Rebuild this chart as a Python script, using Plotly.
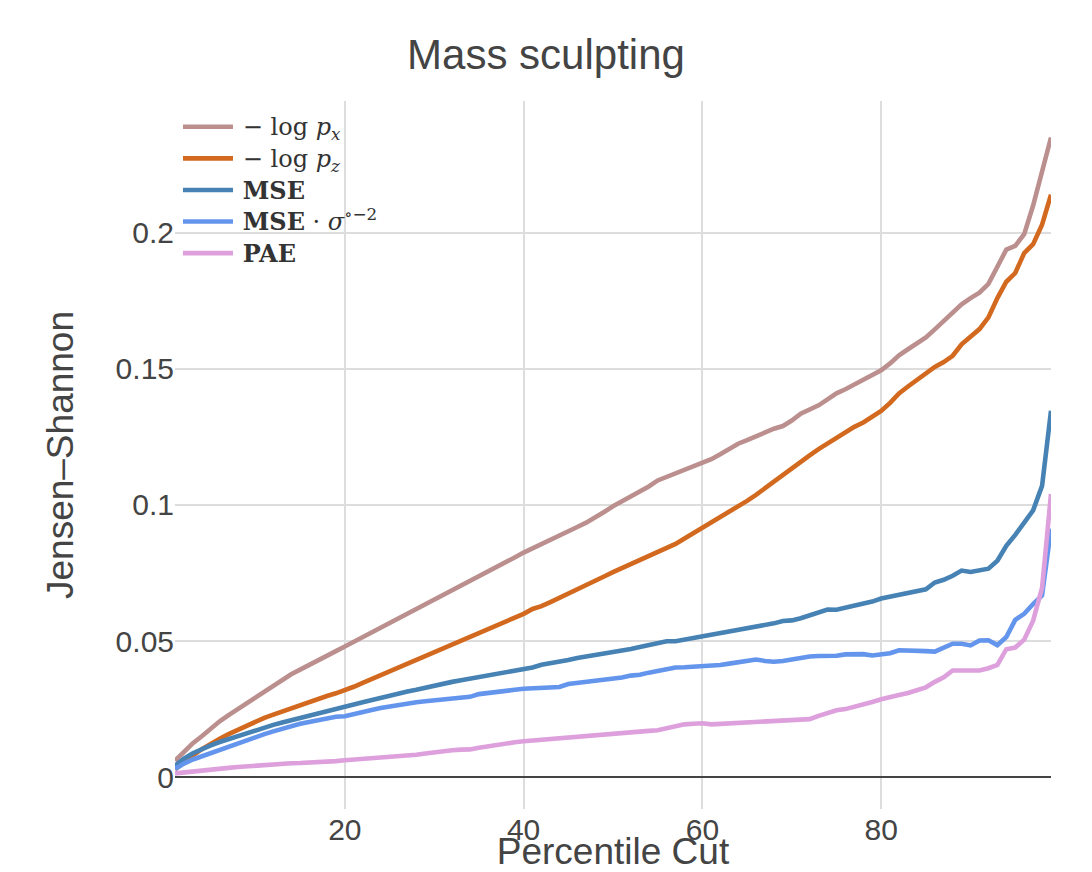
import plotly.graph_objects as go

x_pct = list(range(1, 100))

neg_log_px = [
    0.0060, 0.0095, 0.0125, 0.0150, 0.0178, 0.0205, 0.0228, 0.0250, 0.0270, 0.0291,
    0.0312, 0.0333, 0.0356, 0.0378, 0.0395, 0.0413, 0.0430, 0.0447, 0.0463, 0.0480,
    0.0497, 0.0514, 0.0531, 0.0548, 0.0565, 0.0582, 0.0599, 0.0616, 0.0633, 0.0650,
    0.0667, 0.0684, 0.0702, 0.0720, 0.0738, 0.0756, 0.0773, 0.0790, 0.0807, 0.0825,
    0.0840, 0.0856, 0.0872, 0.0888, 0.0903, 0.0919, 0.0935, 0.0953, 0.0974, 0.0995,
    0.1013, 0.1035, 0.1050, 0.1068, 0.1090, 0.1103, 0.1113, 0.1125, 0.1138, 0.1151,
    0.1168, 0.1186, 0.1205, 0.1225, 0.1238, 0.1252, 0.1268, 0.1280, 0.1290, 0.1310,
    0.1335, 0.1350, 0.1366, 0.1388, 0.1410, 0.1425, 0.1442, 0.1458, 0.1478, 0.1495,
    0.1520, 0.1550, 0.1572, 0.1592, 0.1615, 0.1645, 0.1675, 0.1705, 0.1737, 0.1760,
    0.1780, 0.1812, 0.1875, 0.1938, 0.1952, 0.1995, 0.2100, 0.2227, 0.2350,
]

neg_log_pz = [
    0.0028, 0.0055, 0.0080, 0.0103, 0.0123, 0.0141, 0.0158, 0.0174, 0.0190, 0.0205,
    0.0218, 0.0230, 0.0242, 0.0254, 0.0266, 0.0277, 0.0288, 0.0298, 0.0308, 0.0318,
    0.0332, 0.0346, 0.0360, 0.0374, 0.0388, 0.0402, 0.0417, 0.0432, 0.0445, 0.0460,
    0.0473, 0.0487, 0.0500, 0.0514, 0.0528, 0.0542, 0.0556, 0.0570, 0.0585, 0.0600,
    0.0618, 0.0628, 0.0643, 0.0658, 0.0673, 0.0688, 0.0704, 0.0720, 0.0737, 0.0753,
    0.0768, 0.0783, 0.0797, 0.0812, 0.0826, 0.0842, 0.0857, 0.0877, 0.0897, 0.0915,
    0.0933, 0.0952, 0.0972, 0.0993, 0.1015, 0.1037, 0.1062, 0.1086, 0.1110, 0.1135,
    0.1159, 0.1182, 0.1205, 0.1225, 0.1248, 0.1268, 0.1287, 0.1303, 0.1325, 0.1345,
    0.1375, 0.1410, 0.1435, 0.1460, 0.1482, 0.1507, 0.1525, 0.1548, 0.1590, 0.1620,
    0.1646, 0.1689, 0.1760, 0.1820, 0.1852, 0.1925, 0.1958, 0.2030, 0.2140,
]

mse = [
    0.0042, 0.0068, 0.0088, 0.0104, 0.0117, 0.0129, 0.0140, 0.0151, 0.0162, 0.0172,
    0.0182, 0.0192, 0.0201, 0.0210, 0.0218, 0.0226, 0.0234, 0.0242, 0.0250, 0.0260,
    0.0267, 0.0275, 0.0283, 0.0292, 0.0300, 0.0311, 0.0315, 0.0321, 0.0329, 0.0337,
    0.0343, 0.0350, 0.0356, 0.0362, 0.0368, 0.0373, 0.0378, 0.0384, 0.0389, 0.0395,
    0.0403, 0.0413, 0.0418, 0.0422, 0.0430, 0.0438, 0.0443, 0.0448, 0.0453, 0.0458,
    0.0464, 0.0471, 0.0478, 0.0485, 0.0492, 0.0499, 0.0499, 0.0505, 0.0511, 0.0517,
    0.0522, 0.0527, 0.0532, 0.0537, 0.0544, 0.0551, 0.0558, 0.0565, 0.0574, 0.0576,
    0.0584, 0.0594, 0.0604, 0.0616, 0.0615, 0.0622, 0.0630, 0.0635, 0.0645, 0.0656,
    0.0662, 0.0668, 0.0676, 0.0684, 0.0690, 0.0715, 0.0725, 0.0740, 0.0759, 0.0754,
    0.0760, 0.0766, 0.0795, 0.0850, 0.0890, 0.0935, 0.0980, 0.1070, 0.1346,
]

mse_sigma = [
    0.0030, 0.0050, 0.0065, 0.0077, 0.0088, 0.0100, 0.0112, 0.0124, 0.0136, 0.0147,
    0.0158, 0.0168, 0.0178, 0.0189, 0.0196, 0.0203, 0.0210, 0.0217, 0.0222, 0.0224,
    0.0233, 0.0240, 0.0247, 0.0254, 0.0260, 0.0266, 0.0271, 0.0275, 0.0279, 0.0283,
    0.0286, 0.0289, 0.0292, 0.0295, 0.0305, 0.0310, 0.0313, 0.0317, 0.0321, 0.0325,
    0.0327, 0.0329, 0.0330, 0.0331, 0.0342, 0.0346, 0.0349, 0.0352, 0.0356, 0.0360,
    0.0366, 0.0373, 0.0376, 0.0384, 0.0390, 0.0397, 0.0403, 0.0404, 0.0405, 0.0407,
    0.0408, 0.0412, 0.0417, 0.0421, 0.0426, 0.0432, 0.0427, 0.0424, 0.0427, 0.0432,
    0.0440, 0.0443, 0.0445, 0.0445, 0.0446, 0.0451, 0.0452, 0.0452, 0.0447, 0.0453,
    0.0455, 0.0466, 0.0466, 0.0465, 0.0463, 0.0461, 0.0475, 0.0490, 0.0490, 0.0484,
    0.0502, 0.0503, 0.0485, 0.0515, 0.0578, 0.0600, 0.0636, 0.0668, 0.0913,
]

pae = [
    0.0014, 0.0018, 0.0022, 0.0025, 0.0028, 0.0031, 0.0034, 0.0037, 0.0040, 0.0043,
    0.0045, 0.0047, 0.0049, 0.0051, 0.0052, 0.0053, 0.0055, 0.0057, 0.0059, 0.0062,
    0.0064, 0.0066, 0.0068, 0.0071, 0.0074, 0.0076, 0.0078, 0.0082, 0.0087, 0.0092,
    0.0096, 0.0099, 0.0101, 0.0102, 0.0108, 0.0114, 0.0119, 0.0123, 0.0128, 0.0132,
    0.0135, 0.0138, 0.0141, 0.0144, 0.0147, 0.0150, 0.0153, 0.0155, 0.0157, 0.0160,
    0.0163, 0.0166, 0.0168, 0.0170, 0.0172, 0.0180, 0.0190, 0.0194, 0.0196, 0.0198,
    0.0194, 0.0196, 0.0198, 0.0200, 0.0202, 0.0204, 0.0206, 0.0207, 0.0209, 0.0210,
    0.0211, 0.0213, 0.0225, 0.0236, 0.0246, 0.0250, 0.0258, 0.0264, 0.0276, 0.0286,
    0.0292, 0.0302, 0.0309, 0.0318, 0.0330, 0.0350, 0.0367, 0.0392, 0.0391, 0.0389,
    0.0392, 0.0400, 0.0412, 0.0470, 0.0476, 0.0505, 0.0575, 0.0695, 0.1040,
]

big = '<span style="font-size:24px">{}</span>'
series_names = [
    big.format("\u2009− log <i>p</i><sub><i>x</i></sub>"),
    big.format("\u2009− log <i>p</i><sub><i>z</i></sub>"),
    big.format("\u2009<b>MSE</b>"),
    big.format("\u2009<b>MSE</b> · <i>σ</i><sup>∘−2</sup>"),
    big.format("\u2009<b>PAE</b>"),
]
series_values = [neg_log_px, neg_log_pz, mse, mse_sigma, pae]
series_colors = ["#BC8F8F", "#D2691E", "#4682B4", "#6495ED", "#DDA0DD"]

fig = go.Figure()
for name, vals, col in zip(series_names, series_values, series_colors):
    fig.add_trace(go.Scatter(
        x=x_pct, y=vals, mode="lines", name=name,
        line=dict(color=col, width=4.6),
    ))

sans = "Liberation Sans, Arial, sans-serif"
fig.update_layout(
    template="none",
    width=1092, height=872,
    margin=dict(l=175, r=41, t=101, b=63, autoexpand=False),
    paper_bgcolor="white", plot_bgcolor="white",
    font=dict(family=sans, color="#444", size=30),
    title=dict(text="Mass sculpting", x=0.5, xanchor="center",
               y=1 - 54 / 872, yref="container", yanchor="middle",
               font=dict(family=sans, size=42, color="#444")),
    legend=dict(x=0.0034, y=0.993, xanchor="left", yanchor="top",
                bgcolor="rgba(0,0,0,0)", borderwidth=0, itemwidth=50,
                font=dict(family="DejaVu Serif, serif", size=22, color="#333"),
                tracegroupgap=0),
    xaxis=dict(range=[1, 99], dtick=20, tick0=0, showgrid=True,
               gridcolor="#dddddd", gridwidth=1.5, zeroline=False,
               showline=False, ticks="", automargin=True,
               title=dict(text="Percentile Cut", font=dict(size=37), standoff=4),
               tickfont=dict(size=30)),
    yaxis=dict(range=[-0.0117, 0.2484], tickvals=[0, 0.05, 0.1, 0.15, 0.2],
               ticktext=["0", "0.05", "0.1", "0.15", "0.2"],
               showgrid=True, gridcolor="#dddddd", gridwidth=1.5,
               zeroline=True, zerolinecolor="#444", zerolinewidth=2,
               showline=False, ticks="", automargin=False,
               title=dict(text="Jensen–Shannon", font=dict(size=37), standoff=30),
               tickfont=dict(size=30)),
)

fig.write_html("out.html")
